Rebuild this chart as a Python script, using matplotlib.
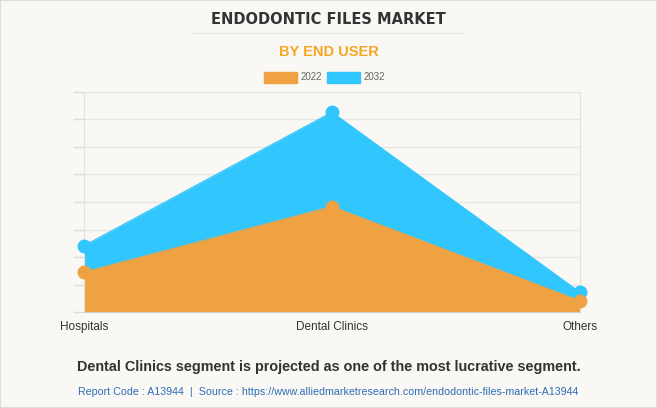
import matplotlib.pyplot as plt
import numpy as np

# values (grid units, axis has no labels)
segments = ["Hospitals", "Dental Clinics", "Others"]
years = ["2022", "2032"]
values_2022 = [1.45, 3.83, 0.41]
values_2032 = [2.41, 7.25, 0.72]

ORANGE = "#F0A242"
BLUE = "#31C6FD"
BG = "#F9F8F4"
ARIAL = "Liberation Sans"

fig = plt.figure(figsize=(6.57, 4.08), dpi=100, facecolor=BG)
ax = fig.add_axes([84 / 657, 1 - 312.3 / 408, 496 / 657, 220.6 / 408])
ax.set_facecolor(BG)

x = np.arange(len(segments))
for vals, col in [(values_2032, BLUE), (values_2022, ORANGE)]:
    ax.fill_between(x, 0, vals, color=col, lw=0, zorder=2)
    ax.plot(x, vals, color=col, lw=1, marker="o", ms=9, zorder=3, clip_on=False)

ax.set_xlim(0, len(segments) - 1)
ax.set_ylim(0, 8)
ax.set_yticks(np.arange(0, 9))
ax.set_yticklabels([])
ax.set_xticks(x)
ax.set_xticklabels(segments, fontsize=8.5, color="#333333", family=ARIAL)
ax.tick_params(axis="y", length=8, color="#DDDDDD", width=1)
ax.tick_params(axis="x", length=0, pad=6)
ax.grid(axis="y", color="#E6E5E1", lw=1, zorder=0)
for side in ["left", "right", "top"]:
    ax.spines[side].set_color("#E3E2DE")
ax.spines["top"].set_visible(False)
ax.spines["bottom"].set_color("#CFCECA")
ax.spines["bottom"].set_zorder(4)

fig.text(0.5, 1 - 19 / 408, "ENDODONTIC FILES MARKET", ha="center", va="center",
         fontsize=10.5, fontweight="bold", color="#333333")
fig.add_artist(plt.Line2D([193 / 657, 463 / 657], [1 - 33 / 408, 1 - 33 / 408],
                          color="#E6E5E1", lw=1))
fig.text(0.5, 1 - 52 / 408, "BY END USER", ha="center", va="center",
         fontsize=10.5, fontweight="bold", color="#F5A623", family=ARIAL)

# legend
for i, (yr, col) in enumerate(zip(years, [ORANGE, BLUE])):
    x0 = (264 + i * 63) / 657
    fig.add_artist(plt.Rectangle((x0, 1 - 83 / 408), 33 / 657, 11 / 408,
                                 color=col, transform=fig.transFigure))
    fig.text(x0 + 37 / 657, 1 - 77.5 / 408, yr, ha="left", va="center",
             fontsize=7, color="#666666", family=ARIAL)

fig.text(0.5, 1 - 367 / 408,
         "Dental Clinics segment is projected as one of the most lucrative segment.",
         ha="center", va="center", fontsize=10.4, fontweight="bold", color="#333333",
         family=ARIAL)
fig.text(0.5, 1 - 392 / 408,
         "Report Code : A13944  |  Source : https://www.alliedmarketresearch.com/endodontic-files-market-A13944",
         ha="center", va="center", fontsize=7.7, color="#2F6DB5", family=ARIAL)

fig.add_artist(plt.Rectangle((0, 0), 1, 1, fill=False, ec="#DDDDDD", lw=1.5,
                             transform=fig.transFigure))

fig.savefig("out.png", dpi=100, facecolor=BG)
